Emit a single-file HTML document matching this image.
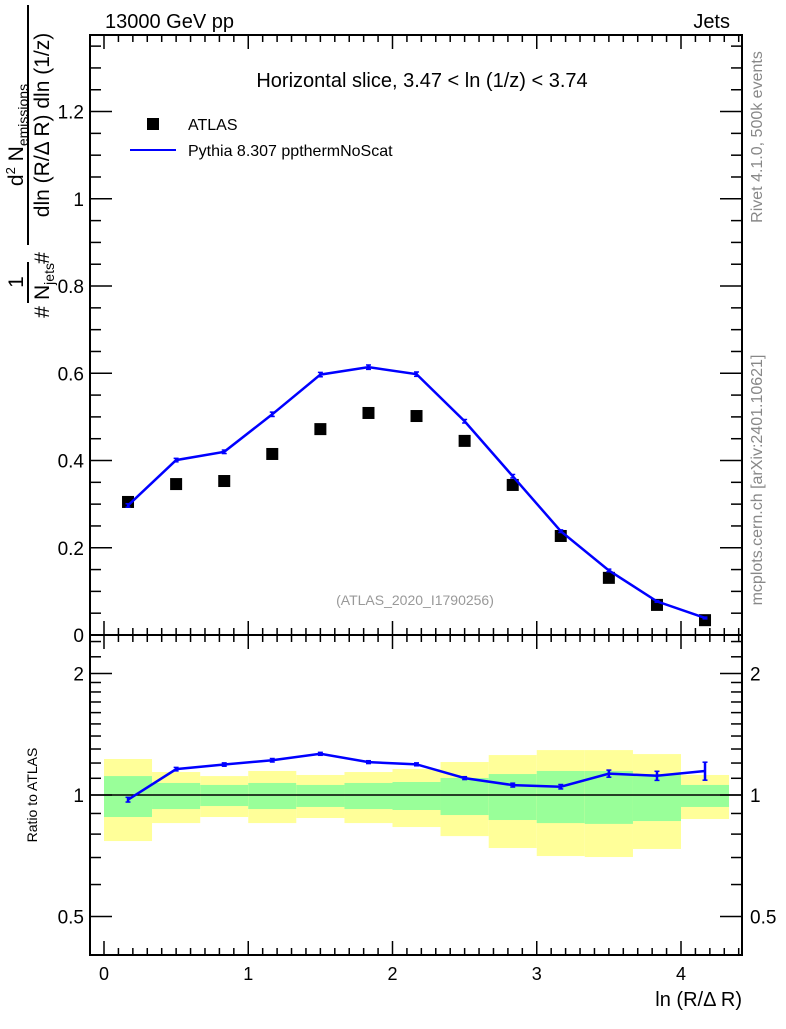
<!DOCTYPE html>
<html><head><meta charset="utf-8"><style>
body{margin:0;background:#fff}
svg{font-family:"Liberation Sans",sans-serif}
</style></head><body>
<svg id="c" width="786" height="1024" xmlns="http://www.w3.org/2000/svg">
<rect width="786" height="1024" fill="#fff"/>
<g id="bands"></g>
<g id="ticks"></g>
<g id="marks"></g>
<rect x="90" y="35" width="652" height="600" fill="none" stroke="#000" stroke-width="2"/>
<rect x="90" y="635" width="652" height="320" fill="none" stroke="#000" stroke-width="2"/>
<text x="105" y="28" font-size="20">13000 GeV pp</text>
<text x="730" y="28" font-size="20" text-anchor="end">Jets</text>
<text x="422" y="87" font-size="20" text-anchor="middle">Horizontal slice, 3.47 &lt; ln (1/z) &lt; 3.74</text>
<rect x="147" y="118" width="12" height="12" fill="#000"/>
<text x="188" y="130" font-size="16">ATLAS</text>
<line x1="130" y1="150" x2="176" y2="150" stroke="#0000ff" stroke-width="2"/>
<text x="188" y="156" font-size="16">Pythia 8.307 ppthermNoScat</text>
<text x="415" y="605" font-size="14" fill="#999" text-anchor="middle">(ATLAS_2020_I1790256)</text>
<text transform="translate(762,137) rotate(-90)" font-size="16" fill="#888" text-anchor="middle">Rivet 4.1.0,  500k events</text>
<text transform="translate(762,480) rotate(-90)" font-size="16" fill="#888" text-anchor="middle">mcplots.cern.ch [arXiv:2401.10621]</text>
<g>
<text transform="translate(49,125) rotate(-90)" font-size="21" text-anchor="middle">dln (R/Δ R) dln (1/z)</text>
<line x1="28" y1="5" x2="28" y2="245" stroke="#000" stroke-width="2"/>
<text transform="translate(23,135) rotate(-90)" font-size="21" text-anchor="middle">d<tspan font-size="13" dy="-8">2</tspan><tspan dy="8"> N</tspan><tspan font-size="14" dy="5">emissions</tspan></text>
<text transform="translate(49,258) rotate(-90)" font-size="21" text-anchor="middle">#</text>
<text transform="translate(49,312) rotate(-90)" font-size="21" text-anchor="middle">#</text>
<text transform="translate(23,282) rotate(-90)" font-size="21" text-anchor="middle">1</text>
<line x1="28" y1="262" x2="28" y2="303" stroke="#000" stroke-width="2"/>
<text transform="translate(49,300) rotate(-90)" font-size="21">N<tspan font-size="14" dy="5">jets</tspan></text>
</g>
<text transform="translate(37,795) rotate(-90)" font-size="14" text-anchor="middle">Ratio to ATLAS</text>
<text x="742" y="1006" font-size="20" text-anchor="end">ln (R/Δ R)</text>
</svg>
<script>
const xEdges=[0,0.333,0.667,1,1.333,1.667,2,2.333,2.667,3,3.333,3.667,4,4.333];
const dataVals=[0.305,0.346,0.353,0.415,0.472,0.509,0.502,0.445,0.344,0.227,0.131,0.069,0.034];
const mcVals=[0.297,0.401,0.420,0.506,0.597,0.614,0.598,0.490,0.364,0.238,0.148,0.077,0.039];
const mcErr=[0.004,0.004,0.004,0.005,0.005,0.005,0.005,0.004,0.004,0.003,0.003,0.002,0.002];
const yelUp=[1.228,1.140,1.114,1.147,1.121,1.140,1.160,1.207,1.256,1.292,1.292,1.263,1.121];
const yelDn=[0.769,0.852,0.882,0.852,0.877,0.852,0.833,0.791,0.739,0.706,0.702,0.735,0.872];
const grnUp=[1.114,1.071,1.059,1.071,1.059,1.071,1.077,1.102,1.127,1.147,1.147,1.127,1.059];
const grnDn=[0.882,0.923,0.939,0.923,0.934,0.923,0.918,0.892,0.867,0.852,0.848,0.862,0.934];
const xTicks=[0,1,2,3,4];
const yTicks=[0,0.2,0.4,0.6,0.8,1,1.2];
const yTickLabels=["0","0.2","0.4","0.6","0.8","1","1.2"];
const rTicks=[0.5,1,2];
const rTickLabels=["0.5","1","2"];

const NS="http://www.w3.org/2000/svg";
const X=v=>104+144.25*v;
const Y=v=>635-436.2*v;
const R=v=>795-121.5*Math.log2(v);
function mk(p,t,a){const e=document.createElementNS(NS,t);for(const k in a)e.setAttribute(k,a[k]);p.appendChild(e);return e;}
const bands=document.getElementById('bands'),ticks=document.getElementById('ticks'),marks=document.getElementById('marks'),svg=document.getElementById('c');

for(let i=0;i<dataVals.length;i++){
  const x0=X(xEdges[i]),x1=X(xEdges[i+1]);
  let e=mk(bands,'rect',{x:x0,y:R(yelUp[i]),width:x1-x0,height:R(yelDn[i])-R(yelUp[i]),fill:'#ffff99'});
  
  
  e=mk(bands,'rect',{x:x0,y:R(grnUp[i]),width:x1-x0,height:R(grnDn[i])-R(grnUp[i]),fill:'#99ff99'});
  
  
}
let ref=mk(marks,'line',{x1:90,x2:742,y1:R(1),y2:R(1),stroke:'#000','stroke-width':1.5});



for(let v=0;v<=4.41;v+=0.1){
  const vv=Math.round(v*10)/10, maj=Math.abs(vv-Math.round(vv))<1e-6, L=maj?14:7, x=X(vv);
  if(x>741)break;
  [[35,1],[635,-1],[635,1],[955,-1]].forEach(([y,d])=>mk(ticks,'line',{x1:x,x2:x,y1:y,y2:y+d*L,stroke:'#000','stroke-width':1.5}));
}
xTicks.forEach(v=>{const t=mk(svg,'text',{x:X(v),y:980,'font-size':18,'text-anchor':'middle'});t.textContent=v;

});
for(let v=0;v<=1.37;v+=0.05){
  const vv=Math.round(v*100)/100, maj=Math.abs(vv*5-Math.round(vv*5))<1e-6, L=maj?22:11, y=Y(vv);
  mk(ticks,'line',{x1:90,x2:90+L,y1:y,y2:y,stroke:'#000','stroke-width':1.5});
  mk(ticks,'line',{x1:742,x2:742-L,y1:y,y2:y,stroke:'#000','stroke-width':1.5});
}
yTicks.forEach((v,i)=>{const t=mk(svg,'text',{x:84,y:Y(v)+7,'font-size':19,'text-anchor':'end'});t.textContent=yTickLabels[i];

});
[0.5,0.6,0.7,0.8,0.9,1,1.1,1.2,1.3,1.4,1.5,1.6,1.7,1.8,1.9,2,2.2,2.4].forEach(v=>{
  const maj=rTicks.includes(v),L=maj?22:11,y=R(v);
  mk(ticks,'line',{x1:90,x2:90+L,y1:y,y2:y,stroke:'#000','stroke-width':1.5});
  mk(ticks,'line',{x1:742,x2:742-L,y1:y,y2:y,stroke:'#000','stroke-width':1.5});
});
rTicks.forEach((v,i)=>{
  let t=mk(svg,'text',{x:84,y:R(v)+7,'font-size':19,'text-anchor':'end'});t.textContent=rTickLabels[i];
  
  
  t=mk(svg,'text',{x:750,y:R(v)+7,'font-size':19});t.textContent=rTickLabels[i];
  
  
});

const cx=i=>X((xEdges[i]+xEdges[i+1])/2);
dataVals.forEach((v,i)=>{const r=mk(marks,'rect',{x:cx(i)-6,y:Y(v)-6,width:12,height:12,fill:'#000'});

});
let p=mcVals.map((v,i)=>cx(i)+','+Y(v)).join(' ');
let pl=mk(marks,'polyline',{points:p,fill:'none',stroke:'#0000ff','stroke-width':2.5});


let rp=mcVals.map((v,i)=>cx(i)+','+R(v/dataVals[i])).join(' ');
let rl=mk(marks,'polyline',{points:rp,fill:'none',stroke:'#0000ff','stroke-width':2.5});


mcVals.forEach((v,i)=>{
  const x=cx(i);
  [[Y(v+mcErr[i]),Y(v-mcErr[i])],[R((v+mcErr[i])/dataVals[i]),R((v-mcErr[i])/dataVals[i])]].forEach(([a,b])=>{
    const e=mk(marks,'line',{x1:x,x2:x,y1:a,y2:b,stroke:'#0000ff','stroke-width':2.5});
    
    
    mk(marks,'line',{x1:x-2.5,x2:x+2.5,y1:a,y2:a,stroke:'#0000ff','stroke-width':1.5});
    mk(marks,'line',{x1:x-2.5,x2:x+2.5,y1:b,y2:b,stroke:'#0000ff','stroke-width':1.5});
  });
});
</script>
</body></html>
